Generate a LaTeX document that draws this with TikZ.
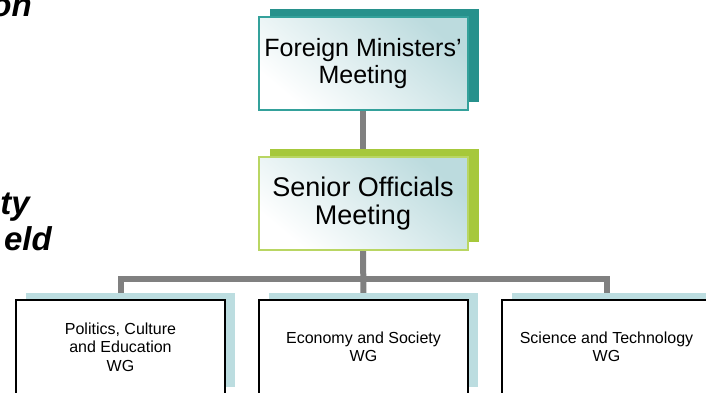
\documentclass[tikz,border=0pt]{standalone}
\usepackage{xcolor}
\usepackage{tikz}
\usepackage{fontspec}
\setmainfont{Liberation Sans}
\usetikzlibrary{shadows,backgrounds}
\definecolor{fmteal}{HTML}{27918C}
\definecolor{fmline}{HTML}{34A19B}
\definecolor{somgreen}{HTML}{A6C83B}
\definecolor{somline}{HTML}{B9D663}
\definecolor{wgback}{HTML}{BCDDE0}
\definecolor{pale}{HTML}{BCDBDE}
\definecolor{linkgray}{HTML}{808080}

\tikzset{
  topbox/.style={rectangle, minimum width=209pt, minimum height=93pt, inner sep=0pt,
    align=center, top color=pale, bottom color=white, shading angle=-40, line width=2pt},
  fmbox/.style={topbox, font=\fontsize{25}{27}\selectfont, draw=fmline,
    general shadow={shadow xshift=11.5pt, shadow yshift=8.5pt, fill=fmteal}},
  sombox/.style={topbox, font=\fontsize{27}{28}\selectfont, draw=somline,
    general shadow={shadow xshift=11.5pt, shadow yshift=8.5pt, fill=somgreen}},
  wgbox/.style={rectangle, minimum width=209pt, minimum height=94pt, inner sep=0pt,
    align=center, font=\fontsize{16}{18.5}\selectfont, draw=black, fill=white, line width=1.3pt,
    general shadow={shadow xshift=10pt, shadow yshift=7pt, fill=wgback}},
  link/.style={draw=linkgray, line width=6pt, line join=miter},
  cut/.style={font=\bfseries\itshape\fontsize{33}{36}\selectfont, inner sep=0pt}
}

\begin{document}
\begin{tikzpicture}[x=1pt, y=-1pt]
\useasboundingbox (0,0) rectangle (706,392);
\clip (0,0) rectangle (706,392);

\node (on) at (32, 16) [cut, anchor=base east] {on};
\node (ty) at (30, 214) [cut, anchor=base east] {ty};
\node (eld) at (52, 250) [cut, anchor=base east] {eld};

\node (fmm) at (363, 63.5) [fmbox] {Foreign Ministers'\\Meeting};
\node (som) at (363, 203.5) [sombox] {Senior Officials\\Meeting};

\node (pce) at (120.5, 347) [wgbox] {Politics, Culture\\and Education\\WG};
\node (eas) at (363.5, 347) [wgbox] {Economy and Society\\WG};
\node (sat) at (606.5, 347) [wgbox] {Science and Technology\\WG};

\begin{scope}[on background layer]
  \path (som.south) ++(0, 28) coordinate (bus);
  \draw[link] (fmm) -- (som);
  \draw[link] (som) -- (eas);
  \draw[link] (pce.north) |- (bus) -| (sat.north);
\end{scope}
\end{tikzpicture}
\end{document}
